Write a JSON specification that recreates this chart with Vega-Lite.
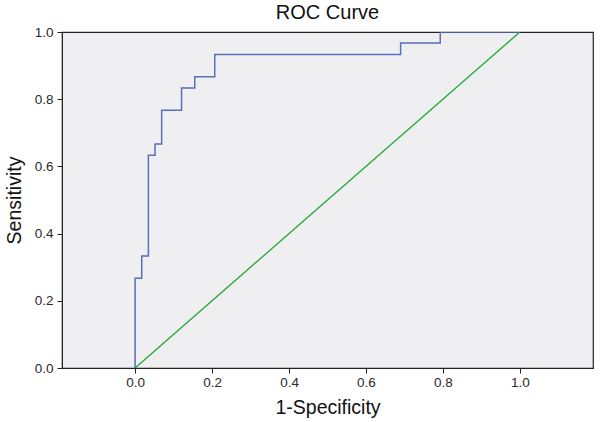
{
  "$schema": "https://vega.github.io/schema/vega-lite/v6.json",
  "autosize": "none",
  "width": 531,
  "height": 336,
  "padding": {"left": 62, "top": 32, "right": 7, "bottom": 54},
  "background": "white",
  "title": {"text": "ROC Curve", "fontSize": 20, "font": "Liberation Sans", "fontWeight": "normal", "color": "#111", "offset": 2, "anchor": "middle"},
  "config": {
    "view": {"fill": "#EFEFF2", "stroke": "#222", "strokeWidth": 1.2},
    "axis": {"labelFont": "Liberation Sans", "titleFont": "Liberation Sans", "labelFontSize": 13.5, "titleFontSize": 19.5, "titleFontWeight": "normal", "labelColor": "#2a2a2a", "titleColor": "#111", "domainColor": "#222", "tickColor": "#222", "tickSize": 5, "grid": false}
  },
  "datasets": {
    "roc": [
      {"o": 0, "fpr": 0.0, "tpr": 0.0},
      {"o": 1, "fpr": 0.0, "tpr": 0.267},
      {"o": 2, "fpr": 0.0172, "tpr": 0.333},
      {"o": 3, "fpr": 0.0345, "tpr": 0.633},
      {"o": 4, "fpr": 0.0517, "tpr": 0.667},
      {"o": 5, "fpr": 0.069, "tpr": 0.767},
      {"o": 6, "fpr": 0.1207, "tpr": 0.833},
      {"o": 7, "fpr": 0.155, "tpr": 0.867},
      {"o": 8, "fpr": 0.207, "tpr": 0.933},
      {"o": 9, "fpr": 0.690, "tpr": 0.967},
      {"o": 10, "fpr": 0.793, "tpr": 1.0},
      {"o": 11, "fpr": 1.0, "tpr": 1.0}
    ],
    "ref": [
      {"o": 0, "fpr": 0, "tpr": 0},
      {"o": 1, "fpr": 1, "tpr": 1}
    ]
  },
  "layer": [
    {
      "data": {"name": "ref"},
      "mark": {"type": "line", "color": "#20A832", "strokeWidth": 1.3, "clip": true},
      "encoding": {
        "x": {"field": "fpr", "type": "quantitative", "scale": {"domain": [-0.19, 1.19], "nice": false, "zero": false},
              "axis": {"values": [0, 0.2, 0.4, 0.6, 0.8, 1.0], "format": ".1f", "title": "1-Specificity", "titlePadding": 10, "labelPadding": 2}},
        "y": {"field": "tpr", "type": "quantitative", "scale": {"domain": [0, 1], "nice": false},
              "axis": {"values": [0, 0.2, 0.4, 0.6, 0.8, 1.0], "format": ".1f", "title": "Sensitivity", "titlePadding": 10, "labelPadding": 4}},
        "order": {"field": "o"}
      }
    },
    {
      "data": {"name": "roc"},
      "mark": {"type": "line", "color": "#5A6EBA", "strokeWidth": 1.5, "interpolate": "step-after", "clip": true},
      "encoding": {
        "x": {"field": "fpr", "type": "quantitative"},
        "y": {"field": "tpr", "type": "quantitative"},
        "order": {"field": "o"}
      }
    }
  ]
}
